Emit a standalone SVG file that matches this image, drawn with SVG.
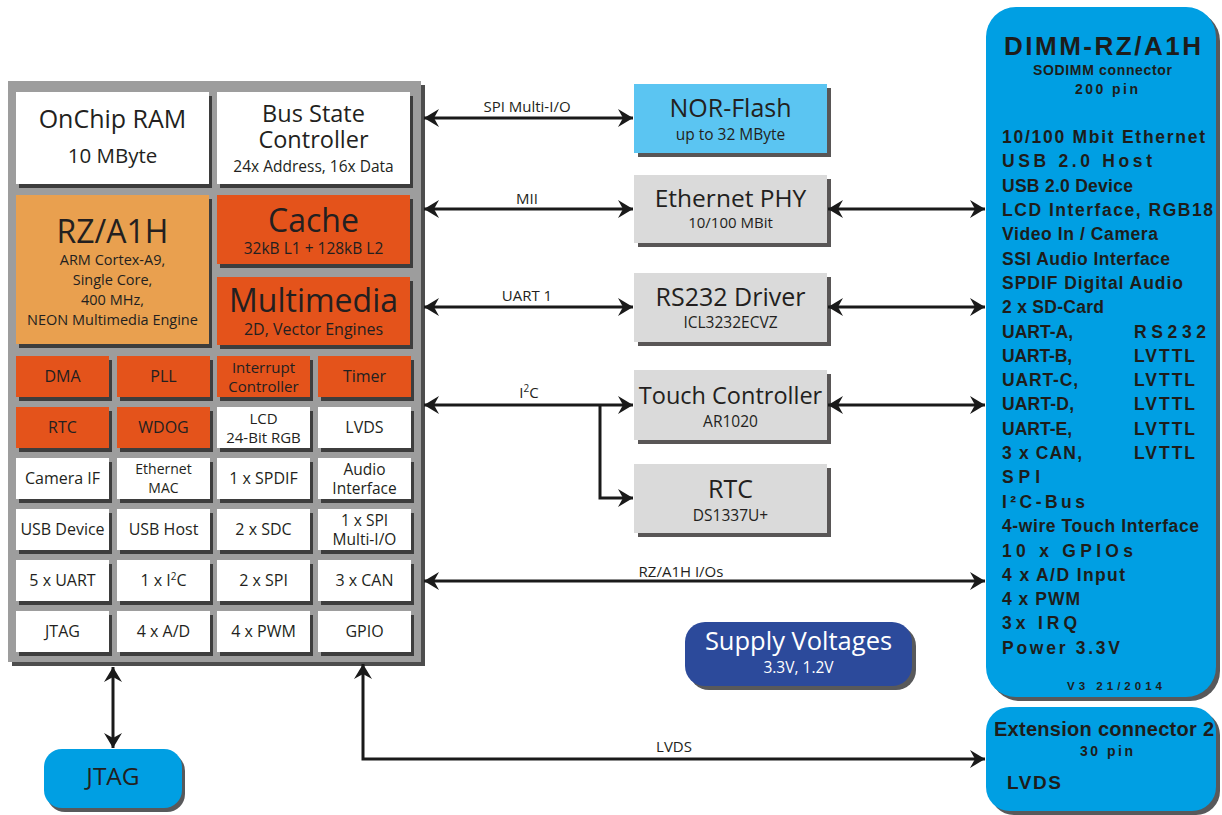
<svg xmlns="http://www.w3.org/2000/svg" width="1222" height="815" viewBox="0 0 1222 815">
<style>
.t{font-family:"Open Sans","Noto Sans",sans-serif;fill:#231f20;text-anchor:middle}
.d{font-family:"Liberation Sans",Arial,sans-serif;font-weight:bold;fill:#1d1d1b}
.sh{fill:#3d3d3d}
.sh2{fill:#595656}
.w{fill:#ffffff}
.or{fill:#e4531b}
.lo{fill:#e9a04f}
.lg{fill:#dadada}
.ln{stroke:#1a1a1a;stroke-width:3;fill:none}
.lb{font-family:"Open Sans","Noto Sans",sans-serif;fill:#231f20;text-anchor:middle;font-size:15px}
</style>
<defs>
<marker id="ah" markerUnits="userSpaceOnUse" markerWidth="16" markerHeight="18" viewBox="0 0 16 18" refX="15" refY="9" orient="auto-start-reverse">
<path d="M0,0 L15,9 L0,18 L5,9 Z" fill="#1a1a1a"/>
</marker>
</defs>
<rect width="1222" height="815" fill="#ffffff"/>

<g id="cpu">
<rect x="12" y="85" width="413" height="581" fill="#4d4d4d"/>
<rect x="8" y="81" width="413" height="581" fill="#9d9d9d"/>
</g>

<g id="onchip-ram">
<rect class="sh" x="19" y="96" width="193" height="92"/>
<rect class="w" x="16" y="92" width="193" height="92"/>
<text class="t" x="112.5" y="128" font-size="25">OnChip RAM</text>
<text class="t" x="112.5" y="163" font-size="20.5">10 MByte</text>
</g>
<g id="bus-state-controller">
<rect class="sh" x="220" y="96" width="193" height="92"/>
<rect class="w" x="217" y="92" width="193" height="92"/>
<text class="t" x="313.5" y="122" font-size="23.5">Bus State</text>
<text class="t" x="313.5" y="148" font-size="23.5">Controller</text>
<text class="t" x="313.5" y="172" font-size="15.5">24x Address, 16x Data</text>
</g>
<g id="rz-a1h">
<rect class="sh" x="19" y="199" width="193" height="149"/>
<rect class="lo" x="16" y="195" width="193" height="149"/>
<text class="t" x="112.5" y="243" font-size="32">RZ/A1H</text>
<text class="t" x="112.5" y="265" font-size="14.5">ARM Cortex-A9,</text>
<text class="t" x="112.5" y="285" font-size="14.5">Single Core,</text>
<text class="t" x="112.5" y="305" font-size="14.5">400 MHz,</text>
<text class="t" x="112.5" y="325" font-size="14.5">NEON Multimedia Engine</text>
</g>
<g id="cache">
<rect class="sh" x="220" y="199" width="193" height="69"/>
<rect class="or" x="217" y="195" width="193" height="69"/>
<text class="t" x="313.5" y="232" font-size="32">Cache</text>
<text class="t" x="313.5" y="254" font-size="15.5">32kB L1 + 128kB L2</text>
</g>
<g id="multimedia">
<rect class="sh" x="220" y="281" width="193" height="68"/>
<rect class="or" x="217" y="277" width="193" height="68"/>
<text class="t" x="313.5" y="312" font-size="32">Multimedia</text>
<text class="t" x="313.5" y="335" font-size="16">2D, Vector Engines</text>
</g>

<!-- row 1 -->
<g id="dma"><rect class="sh" x="19" y="360" width="93" height="41"/><rect class="or" x="16" y="356" width="93" height="41"/><text class="t" x="62.5" y="382" font-size="16">DMA</text></g>
<g id="pll"><rect class="sh" x="120" y="360" width="93" height="41"/><rect class="or" x="117" y="356" width="93" height="41"/><text class="t" x="163.5" y="382" font-size="16">PLL</text></g>
<g id="interrupt-controller"><rect class="sh" x="220" y="360" width="93" height="41"/><rect class="or" x="217" y="356" width="93" height="41"/><text class="t" x="263.5" y="373" font-size="15">Interrupt</text><text class="t" x="263.5" y="392" font-size="15">Controller</text></g>
<g id="timer"><rect class="sh" x="321" y="360" width="93" height="41"/><rect class="or" x="318" y="356" width="93" height="41"/><text class="t" x="364.5" y="382" font-size="16">Timer</text></g>
<!-- row 2 -->
<g id="rtc-int"><rect class="sh" x="19" y="411" width="93" height="41"/><rect class="or" x="16" y="407" width="93" height="41"/><text class="t" x="62.5" y="433" font-size="16">RTC</text></g>
<g id="wdog"><rect class="sh" x="120" y="411" width="93" height="41"/><rect class="or" x="117" y="407" width="93" height="41"/><text class="t" x="163.5" y="433" font-size="16">WDOG</text></g>
<g id="lcd"><rect class="sh" x="220" y="411" width="93" height="41"/><rect class="w" x="217" y="407" width="93" height="41"/><text class="t" x="263.5" y="424" font-size="15">LCD</text><text class="t" x="263.5" y="443" font-size="15">24-Bit RGB</text></g>
<g id="lvds-int"><rect class="sh" x="321" y="411" width="93" height="41"/><rect class="w" x="318" y="407" width="93" height="41"/><text class="t" x="364.5" y="433" font-size="16">LVDS</text></g>
<!-- row 3 -->
<g id="camera-if"><rect class="sh" x="19" y="462" width="93" height="41"/><rect class="w" x="16" y="458" width="93" height="41"/><text class="t" x="62.5" y="484" font-size="16">Camera IF</text></g>
<g id="ethernet-mac"><rect class="sh" x="120" y="462" width="93" height="41"/><rect class="w" x="117" y="458" width="93" height="41"/><text class="t" x="163.5" y="474" font-size="14">Ethernet</text><text class="t" x="163.5" y="493" font-size="14">MAC</text></g>
<g id="spdif"><rect class="sh" x="220" y="462" width="93" height="41"/><rect class="w" x="217" y="458" width="93" height="41"/><text class="t" x="263.5" y="484" font-size="16">1 x SPDIF</text></g>
<g id="audio-if"><rect class="sh" x="321" y="462" width="93" height="41"/><rect class="w" x="318" y="458" width="93" height="41"/><text class="t" x="364.5" y="475" font-size="15.5">Audio</text><text class="t" x="364.5" y="494" font-size="15.5">Interface</text></g>
<!-- row 4 -->
<g id="usb-device"><rect class="sh" x="19" y="513" width="93" height="41"/><rect class="w" x="16" y="509" width="93" height="41"/><text class="t" x="62.5" y="535" font-size="16">USB Device</text></g>
<g id="usb-host"><rect class="sh" x="120" y="513" width="93" height="41"/><rect class="w" x="117" y="509" width="93" height="41"/><text class="t" x="163.5" y="535" font-size="16">USB Host</text></g>
<g id="sdc"><rect class="sh" x="220" y="513" width="93" height="41"/><rect class="w" x="217" y="509" width="93" height="41"/><text class="t" x="263.5" y="535" font-size="16">2 x SDC</text></g>
<g id="spi-mio"><rect class="sh" x="321" y="513" width="93" height="41"/><rect class="w" x="318" y="509" width="93" height="41"/><text class="t" x="364.5" y="526" font-size="15.5">1 x SPI</text><text class="t" x="364.5" y="545" font-size="15.5">Multi-I/O</text></g>
<!-- row 5 -->
<g id="uart"><rect class="sh" x="19" y="564" width="93" height="41"/><rect class="w" x="16" y="560" width="93" height="41"/><text class="t" x="62.5" y="586" font-size="16">5 x UART</text></g>
<g id="i2c-int"><rect class="sh" x="120" y="564" width="93" height="41"/><rect class="w" x="117" y="560" width="93" height="41"/><text class="t" x="163.5" y="586" font-size="16">1 x I<tspan font-size="10" dy="-6">2</tspan><tspan dy="6">C</tspan></text></g>
<g id="spi"><rect class="sh" x="220" y="564" width="93" height="41"/><rect class="w" x="217" y="560" width="93" height="41"/><text class="t" x="263.5" y="586" font-size="16">2 x SPI</text></g>
<g id="can"><rect class="sh" x="321" y="564" width="93" height="41"/><rect class="w" x="318" y="560" width="93" height="41"/><text class="t" x="364.5" y="586" font-size="16">3 x CAN</text></g>
<!-- row 6 -->
<g id="jtag-int"><rect class="sh" x="19" y="615" width="93" height="41"/><rect class="w" x="16" y="611" width="93" height="41"/><text class="t" x="62.5" y="637" font-size="16">JTAG</text></g>
<g id="ad"><rect class="sh" x="120" y="615" width="93" height="41"/><rect class="w" x="117" y="611" width="93" height="41"/><text class="t" x="163.5" y="637" font-size="16">4 x A/D</text></g>
<g id="pwm"><rect class="sh" x="220" y="615" width="93" height="41"/><rect class="w" x="217" y="611" width="93" height="41"/><text class="t" x="263.5" y="637" font-size="16">4 x PWM</text></g>
<g id="gpio"><rect class="sh" x="321" y="615" width="93" height="41"/><rect class="w" x="318" y="611" width="93" height="41"/><text class="t" x="364.5" y="637" font-size="16">GPIO</text></g>

<g id="nor-flash">
<rect class="sh2" x="638" y="88" width="193" height="69"/>
<rect x="634" y="84" width="193" height="69" fill="#5bc5f2"/>
<text class="t" x="730.5" y="117" font-size="25">NOR-Flash</text>
<text class="t" x="730.5" y="140" font-size="15.5">up to 32 MByte</text>
</g>
<g id="ethernet-phy">
<rect class="sh2" x="638" y="179" width="193" height="68"/>
<rect class="lg" x="634" y="175" width="193" height="68"/>
<text class="t" x="730.5" y="207" font-size="24.5">Ethernet PHY</text>
<text class="t" x="730.5" y="228" font-size="15">10/100 MBit</text>
</g>
<g id="rs232-driver">
<rect class="sh2" x="638" y="277" width="193" height="69"/>
<rect class="lg" x="634" y="273" width="193" height="69"/>
<text class="t" x="730.5" y="306" font-size="25">RS232 Driver</text>
<text class="t" x="730.5" y="328" font-size="15.5">ICL3232ECVZ</text>
</g>
<g id="touch-controller">
<rect class="sh2" x="638" y="374" width="193" height="70"/>
<rect class="lg" x="634" y="370" width="193" height="70"/>
<text class="t" x="730.5" y="404" font-size="23.5">Touch Controller</text>
<text class="t" x="730.5" y="427" font-size="15.5">AR1020</text>
</g>
<g id="rtc">
<rect class="sh2" x="638" y="468" width="193" height="69"/>
<rect class="lg" x="634" y="464" width="193" height="69"/>
<text class="t" x="730.5" y="498" font-size="25">RTC</text>
<text class="t" x="730.5" y="521" font-size="15.5">DS1337U+</text>
</g>

<g id="supply-voltages">
<rect x="689" y="626" width="227" height="64" rx="20" fill="#58595b"/>
<rect x="685" y="622" width="227" height="64" rx="20" fill="#2c4a9b"/>
<text class="t" x="798.5" y="650" font-size="25.5" style="fill:#ffffff">Supply Voltages</text>
<text class="t" x="798.5" y="673" font-size="15.5" style="fill:#ffffff">3.3V, 1.2V</text>
</g>

<g id="jtag">
<rect x="47" y="753" width="138" height="59" rx="18" fill="#58595b"/>
<rect x="44" y="749" width="138" height="59" rx="18" fill="#009fe3"/>
<text class="t" x="113" y="785" font-size="24.5">JTAG</text>
</g>

<g id="dimm-rz-a1h">
<rect x="990" y="11" width="230" height="690" rx="30" fill="#58595b"/>
<rect x="986" y="7" width="230" height="690" rx="30" fill="#009fe3"/>
<text class="d" x="1004" y="55" font-size="26" textLength="197" lengthAdjust="spacing">DIMM-RZ/A1H</text>
<text class="d" x="1033" y="75" font-size="14" textLength="139" lengthAdjust="spacing">SODIMM connector</text>
<text class="d" x="1075" y="94" font-size="14" textLength="63" lengthAdjust="spacing">200 pin</text>
<text class="d" x="1002" y="143" font-size="17.5" textLength="203" lengthAdjust="spacing">10/100 Mbit Ethernet</text>
<text class="d" x="1002" y="167" font-size="17.5" textLength="150" lengthAdjust="spacing">USB 2.0 Host</text>
<text class="d" x="1002" y="192" font-size="17.5" textLength="131" lengthAdjust="spacing">USB 2.0 Device</text>
<text class="d" x="1002" y="216" font-size="17.5" textLength="211" lengthAdjust="spacing">LCD Interface, RGB18</text>
<text class="d" x="1002" y="240" font-size="17.5" textLength="156" lengthAdjust="spacing">Video In / Camera</text>
<text class="d" x="1002" y="265" font-size="17.5" textLength="168" lengthAdjust="spacing">SSI Audio Interface</text>
<text class="d" x="1002" y="289" font-size="17.5" textLength="181" lengthAdjust="spacing">SPDIF Digital Audio</text>
<text class="d" x="1002" y="313" font-size="17.5" textLength="102" lengthAdjust="spacing">2 x SD-Card</text>
<text class="d" x="1002" y="338" font-size="17.5" textLength="71" lengthAdjust="spacing">UART-A,</text>
<text class="d" x="1134" y="338" font-size="17.5" textLength="72" lengthAdjust="spacing">RS232</text>
<text class="d" x="1002" y="362" font-size="17.5" textLength="70" lengthAdjust="spacing">UART-B,</text>
<text class="d" x="1134" y="362" font-size="17.5" textLength="61" lengthAdjust="spacing">LVTTL</text>
<text class="d" x="1002" y="386" font-size="17.5" textLength="76" lengthAdjust="spacing">UART-C,</text>
<text class="d" x="1134" y="386" font-size="17.5" textLength="61" lengthAdjust="spacing">LVTTL</text>
<text class="d" x="1002" y="410" font-size="17.5" textLength="72" lengthAdjust="spacing">UART-D,</text>
<text class="d" x="1134" y="410" font-size="17.5" textLength="61" lengthAdjust="spacing">LVTTL</text>
<text class="d" x="1002" y="435" font-size="17.5" textLength="70" lengthAdjust="spacing">UART-E,</text>
<text class="d" x="1134" y="435" font-size="17.5" textLength="61" lengthAdjust="spacing">LVTTL</text>
<text class="d" x="1002" y="459" font-size="17.5" textLength="80" lengthAdjust="spacing">3 x CAN,</text>
<text class="d" x="1134" y="459" font-size="17.5" textLength="61" lengthAdjust="spacing">LVTTL</text>
<text class="d" x="1002" y="483" font-size="17.5" textLength="38" lengthAdjust="spacing">SPI</text>
<text class="d" x="1002" y="508" font-size="17.5" textLength="83" lengthAdjust="spacing">I²C-Bus</text>
<text class="d" x="1002" y="532" font-size="17.5" textLength="197" lengthAdjust="spacing">4-wire Touch Interface</text>
<text class="d" x="1002" y="557" font-size="17.5" textLength="131" lengthAdjust="spacing">10 x GPIOs</text>
<text class="d" x="1002" y="581" font-size="17.5" textLength="123" lengthAdjust="spacing">4 x A/D Input</text>
<text class="d" x="1002" y="605" font-size="17.5" textLength="78" lengthAdjust="spacing">4 x PWM</text>
<text class="d" x="1002" y="629" font-size="17.5" textLength="75" lengthAdjust="spacing">3x IRQ</text>
<text class="d" x="1002" y="654" font-size="17.5" textLength="118" lengthAdjust="spacing">Power 3.3V</text>
<text class="d" x="1067" y="690" font-size="11.5" textLength="95" lengthAdjust="spacing">V3 21/2014</text>
</g>

<g id="extension-connector-2">
<rect x="990" y="711" width="230" height="104" rx="24" fill="#58595b"/>
<rect x="986" y="707" width="230" height="104" rx="24" fill="#009fe3"/>
<text class="d" x="994" y="736" font-size="20" textLength="220" lengthAdjust="spacing">Extension connector 2</text>
<text class="d" x="1080" y="756" font-size="14" textLength="53" lengthAdjust="spacing">30 pin</text>
<text class="d" x="1007" y="789" font-size="19" textLength="54" lengthAdjust="spacing">LVDS</text>
</g>

<g id="connectors">
<line class="ln" x1="424" y1="118" x2="633" y2="118" marker-start="url(#ah)" marker-end="url(#ah)"/>
<line class="ln" x1="424" y1="209" x2="633" y2="209" marker-start="url(#ah)" marker-end="url(#ah)"/>
<line class="ln" x1="424" y1="307" x2="633" y2="307" marker-start="url(#ah)" marker-end="url(#ah)"/>
<line class="ln" x1="424" y1="405" x2="633" y2="405" marker-start="url(#ah)" marker-end="url(#ah)"/>
<path class="ln" d="M600,405 V498 H633" marker-end="url(#ah)"/>
<line class="ln" x1="828" y1="209" x2="985" y2="209" marker-start="url(#ah)" marker-end="url(#ah)"/>
<line class="ln" x1="828" y1="307" x2="985" y2="307" marker-start="url(#ah)" marker-end="url(#ah)"/>
<line class="ln" x1="828" y1="405" x2="985" y2="405" marker-start="url(#ah)" marker-end="url(#ah)"/>
<line class="ln" x1="424" y1="581" x2="985" y2="581" marker-start="url(#ah)" marker-end="url(#ah)"/>
<path class="ln" d="M363,664 V759 H985" marker-start="url(#ah)" marker-end="url(#ah)"/>
<line class="ln" x1="113" y1="667" x2="113" y2="748" marker-start="url(#ah)" marker-end="url(#ah)"/>
<text class="lb" x="527" y="112">SPI Multi-I/O</text>
<text class="lb" x="527" y="204">MII</text>
<text class="lb" x="527" y="301">UART 1</text>
<text class="lb" x="529" y="398">I<tspan font-size="10" dy="-6">2</tspan><tspan dy="6">C</tspan></text>
<text class="lb" x="681" y="577">RZ/A1H I/Os</text>
<text class="lb" x="674" y="752">LVDS</text>
</g>
</svg>
